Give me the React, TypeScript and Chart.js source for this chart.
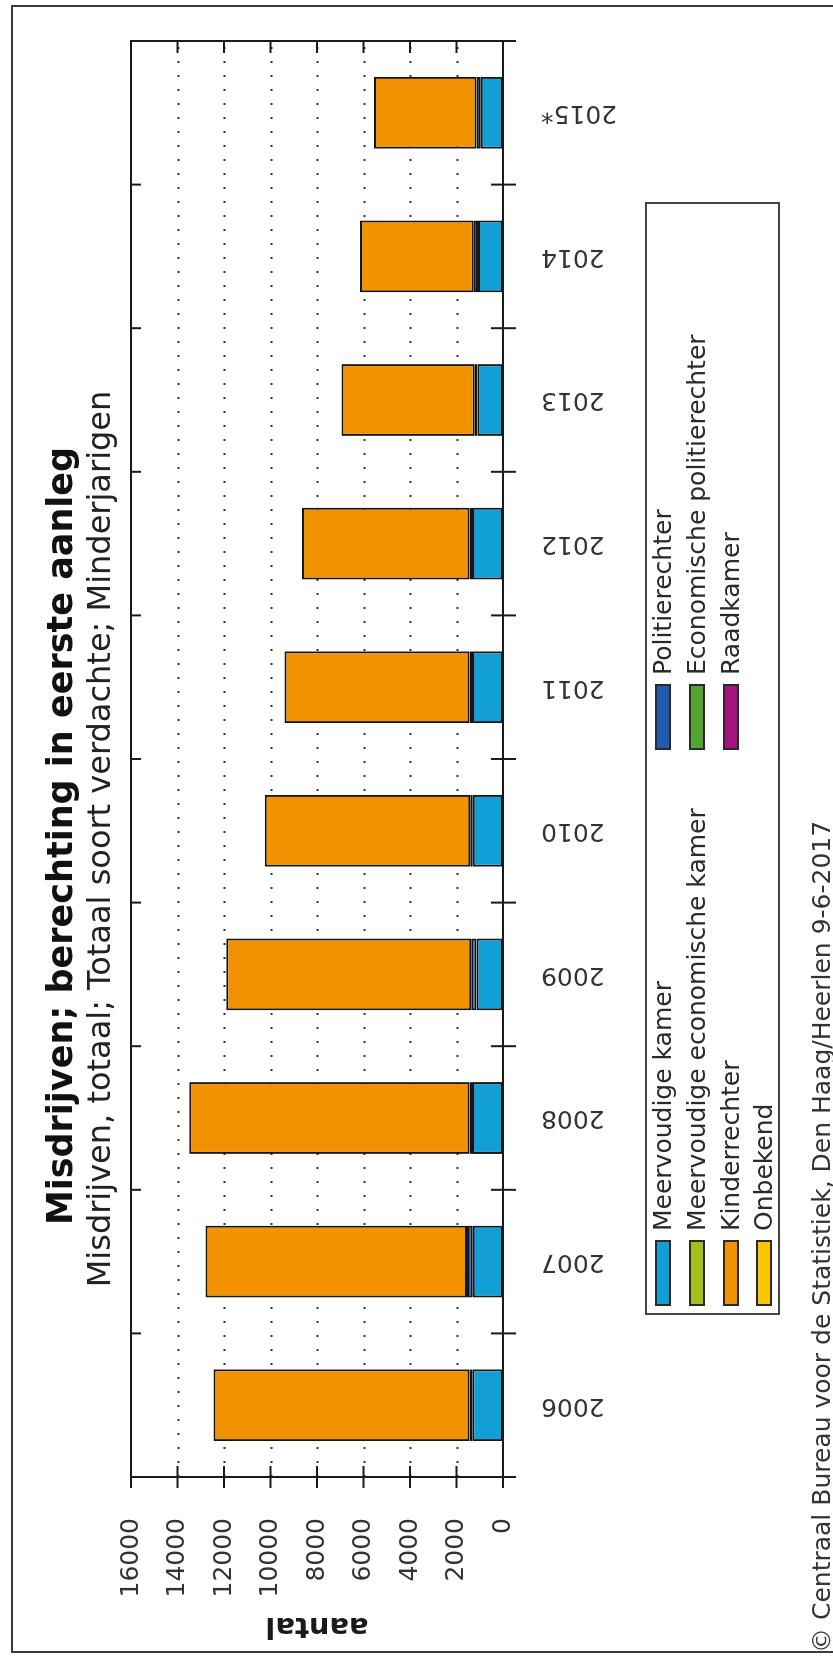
import { useEffect, useRef } from 'react';
import { Chart, registerables } from 'chart.js';

Chart.register(...registerables);

const categories = ['2006', '2007', '2008', '2009', '2010', '2011', '2012', '2013', '2014', '2015*'];
const meervoudigeKamer = [1320, 1300, 1330, 1140, 1300, 1330, 1330, 1100, 1080, 960];
const politierechter = [120, 250, 110, 230, 110, 110, 110, 110, 180, 180];
const meervoudigeEconomischeKamer = [0, 0, 0, 0, 0, 0, 0, 0, 0, 0];
const economischePolitierechter = [0, 0, 0, 0, 0, 0, 0, 0, 0, 0];
const kinderrechter = [11010, 11250, 12060, 10530, 8840, 7960, 7210, 5740, 4890, 4410];
const raadkamer = [0, 0, 0, 0, 0, 0, 0, 0, 0, 0];
const onbekend = [0, 0, 0, 0, 0, 0, 0, 0, 0, 0];
const yTicks = [0, 2000, 4000, 6000, 8000, 10000, 12000, 14000, 16000];

const titleText = 'Misdrijven; berechting in eerste aanleg';
const subtitleText = 'Misdrijven, totaal; Totaal soort verdachte; Minderjarigen';
const yTitle = 'aantal';
const sourceText = '\u00A9 Centraal Bureau voor de Statistiek, Den Haag/Heerlen 9-6-2017';

const C = {
  meervoudig: '#129fd5',
  meervEcon: '#a2c21a',
  kinder: '#f39200',
  onbekend: '#f7c600',
  politie: '#1e5cb0',
  econPolitie: '#52a532',
  raad: '#a2157f',
};

const series = [
  { label: 'Meervoudige kamer', data: meervoudigeKamer, color: C.meervoudig },
  { label: 'Politierechter', data: politierechter, color: C.politie },
  { label: 'Meervoudige economische kamer', data: meervoudigeEconomischeKamer, color: C.meervEcon },
  { label: 'Economische politierechter', data: economischePolitierechter, color: C.econPolitie },
  { label: 'Kinderrechter', data: kinderrechter, color: C.kinder },
  { label: 'Raadkamer', data: raadkamer, color: C.raad },
  { label: 'Onbekend', data: onbekend, color: C.onbekend },
];

const legendCol1 = ['Meervoudige kamer', 'Meervoudige economische kamer', 'Kinderrechter', 'Onbekend'];
const legendCol2 = ['Politierechter', 'Economische politierechter', 'Raadkamer'];

const W = 1658;
const H = 833;
const FONT = '"DejaVu Sans", Verdana, sans-serif';

const framePlugin = {
  id: 'frame',
  beforeDatasetsDraw(chart: any) {
    const { ctx, chartArea, scales } = chart;
    const y = scales.y;
    ctx.save();
    ctx.strokeStyle = '#333';
    ctx.lineWidth = 2;
    ctx.setLineDash([2, 12]);
    yTicks.forEach((v) => {
      if (v === 0 || v === 16000) return;
      const py = Math.round(y.getPixelForValue(v)) + 0.5;
      ctx.beginPath();
      ctx.moveTo(chartArea.left, py);
      ctx.lineTo(chartArea.right, py);
      ctx.stroke();
    });
    ctx.restore();
  },
  afterDatasetsDraw(chart: any) {
    const { ctx, chartArea, scales } = chart;
    const { left, right, top, bottom } = chartArea;
    const x = scales.x;
    const y = scales.y;
    ctx.save();
    ctx.strokeStyle = '#1a1a1a';
    ctx.lineWidth = 2;
    ctx.setLineDash([]);
    ctx.strokeRect(left, top, right - left, bottom - top);
    ctx.beginPath();
    yTicks.forEach((v) => {
      const py = y.getPixelForValue(v);
      ctx.moveTo(left - 11, py);
      ctx.lineTo(left + 11, py);
      ctx.moveTo(right - 12, py);
      ctx.lineTo(right, py);
    });
    const n = categories.length;
    for (let i = 0; i <= n; i++) {
      let px;
      if (i === 0) px = left;
      else if (i === n) px = right;
      else px = (x.getPixelForValue(i - 1) + x.getPixelForValue(i)) / 2;
      ctx.moveTo(px, bottom - 12);
      ctx.lineTo(px, bottom + 13);
      ctx.moveTo(px, top);
      ctx.lineTo(px, top + 10);
    }
    ctx.stroke();
    ctx.restore();
  },
};

function colorOf(label: string) {
  const s = series.find((d) => d.label === label);
  return s ? s.color : '#000';
}

export default function App() {
  const ref = useRef<HTMLCanvasElement | null>(null);

  useEffect(() => {
    document.body.style.margin = '0';
    const canvas = ref.current;
    if (!canvas) return;
    const chart = new Chart(canvas, {
      type: 'bar',
      data: {
        labels: categories,
        datasets: series.map((s) => ({
          label: s.label,
          data: s.data,
          backgroundColor: s.color,
          borderColor: '#161616',
          borderWidth: 2,
          borderSkipped: false,
          barPercentage: 0.5,
          categoryPercentage: 1,
        })),
      },
      options: {
        responsive: false,
        animation: false,
        devicePixelRatio: 1,
        layout: { padding: { left: 0, right: 41, top: 131, bottom: 0 } },
        plugins: {
          legend: { display: false },
          tooltip: { enabled: false },
          title: { display: false },
        },
        scales: {
          x: {
            stacked: true,
            grid: { display: false },
            border: { display: false },
            ticks: {
              minRotation: 90,
              maxRotation: 90,
              autoSkip: false,
              padding: 30,
              color: '#333',
              font: { family: FONT, size: 25 },
            },
            afterFit: (s: any) => {
              s.height = H - 503;
            },
          },
          y: {
            stacked: true,
            min: 0,
            max: 16000,
            grid: { display: false },
            border: { display: false },
            afterBuildTicks: (s: any) => {
              s.ticks = yTicks.map((v) => ({ value: v }));
            },
            ticks: {
              padding: 33,
              color: '#333',
              font: { family: FONT, size: 25 },
              callback: (v: any) => String(v),
            },
            title: {
              display: true,
              text: yTitle,
              color: '#1a1a1a',
              font: { family: FONT, size: 29, weight: 'bold' },
              padding: { top: 15, bottom: 0 },
            },
            afterFit: (s: any) => {
              s.width = 181;
            },
          },
        },
      } as any,
      plugins: [framePlugin],
    });
    return () => chart.destroy();
  }, []);

  const rowY = [16, 49.5, 83.5, 117];
  const legendItem = (label: string, i: number, sx: number) => (
    <div key={label}>
      <div
        style={{
          position: 'absolute',
          left: sx,
          top: rowY[i] - 8,
          width: 66,
          height: 16,
          boxSizing: 'border-box',
          border: '2px solid #2a2a2a',
          background: colorOf(label),
        }}
      />
      <div
        style={{
          position: 'absolute',
          left: sx + 75,
          top: rowY[i] - 17,
          height: 34,
          lineHeight: '34px',
          fontSize: 25,
          fontFamily: FONT,
          color: '#2a2a2a',
          whiteSpace: 'nowrap',
        }}
      >
        {label}
      </div>
    </div>
  );

  return (
    <div
      style={{
        position: 'absolute',
        left: 0,
        top: 0,
        width: 833,
        height: 1658,
        overflow: 'hidden',
        background: '#fff',
      }}
    >
      <div
        style={{
          position: 'absolute',
          left: 0,
          top: 0,
          width: W,
          height: H,
          transformOrigin: '0 0',
          transform: `translate(0px, ${W}px) rotate(-90deg)`,
          background: '#fff',
        }}
      >
        <div
          style={{
            position: 'absolute',
            left: 5,
            top: 11,
            width: 1648,
            height: 900,
            boxSizing: 'border-box',
            border: '2px solid #3a3a3a',
          }}
        />
        <canvas ref={ref} width={W} height={H} style={{ position: 'absolute', left: 0, top: 0, width: W, height: H }} />
        <div
          style={{
            position: 'absolute',
            left: 0,
            width: 1644,
            top: 38,
            lineHeight: '44px',
            textAlign: 'center',
            fontFamily: FONT,
            fontWeight: 'bold',
            fontSize: 35,
            color: '#111',
            whiteSpace: 'nowrap',
          }}
        >
          {titleText}
        </div>
        <div
          style={{
            position: 'absolute',
            left: 0,
            width: 1638,
            top: 81,
            lineHeight: '36px',
            textAlign: 'center',
            fontFamily: FONT,
            fontSize: 32,
            color: '#222',
            whiteSpace: 'nowrap',
          }}
        >
          {subtitleText}
        </div>
        <div
          style={{
            position: 'absolute',
            left: 343,
            top: 645,
            width: 1113,
            height: 135,
            boxSizing: 'border-box',
            border: '2px solid #444',
            background: '#fff',
          }}
        >
          {legendCol1.map((l, i) => legendItem(l, i, 7))}
          {legendCol2.map((l, i) => legendItem(l, i, 563))}
        </div>
        <div
          style={{
            position: 'absolute',
            left: 5,
            top: 806,
            lineHeight: '32px',
            fontFamily: FONT,
            fontSize: 25,
            color: '#333',
            whiteSpace: 'nowrap',
          }}
        >
          {sourceText}
        </div>
      </div>
    </div>
  );
}
